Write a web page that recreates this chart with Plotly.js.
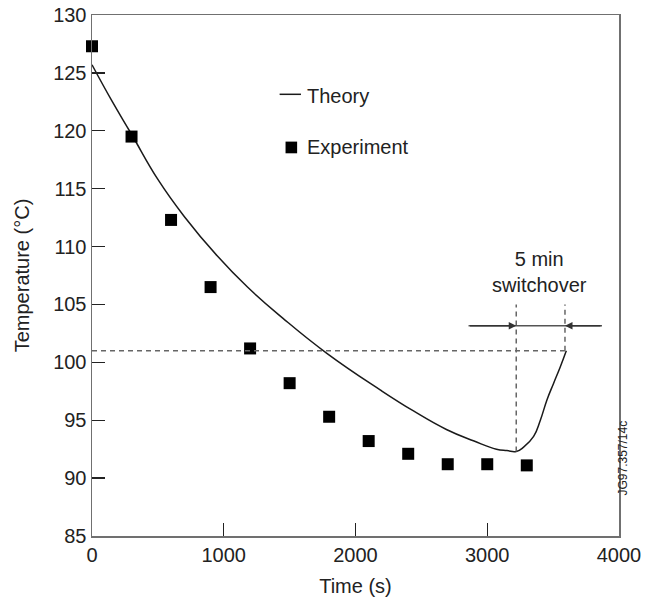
<!DOCTYPE html>
<html><head><meta charset="utf-8">
<script src="https://cdn.plot.ly/plotly-3.0.1.min.js"></script>
<style>html,body{margin:0;padding:0;background:#fff}#chart{width:653px;height:601px}</style>
</head><body><div id="chart"></div>
<script>
// ---- data ----
const theoryTime = [0,150,300,500,700,950,1180,1450,1780,2190,2440,2690,2900,3070,3150,3220,3276,3352,3403,3453,3504,3554,3600];
const theoryTemp = [125.7,122.6,119.7,115.8,112.6,109.2,106.5,103.8,100.8,97.6,95.8,94.2,93.2,92.5,92.38,92.3,92.67,93.6,95.0,96.75,98.2,99.6,101.0];
const expTime = [0,300,600,900,1200,1500,1800,2100,2400,2700,3000,3300];
const expTemp = [127.3,119.5,112.3,106.5,101.2,98.2,95.3,93.2,92.1,91.2,91.2,91.1];
const switchStart = 3220, switchEnd = 3590, switchTemp = 101.0, switchMin = 92.3;
const xTicks = [0,1000,2000,3000,4000];
const yTicks = [85,90,95,100,105,110,115,120,125,130];
const seriesNames = ['Theory','Experiment'];
const switchLabel = '5 min<br>switchover';
const figId = 'JG97.357/14c';

// ---- style ----
const FONT = 'Liberation Sans, Arial, Helvetica, sans-serif';
const TXT = '#222';
const AX = '#707070';
const DASH = '#666';

const traces = [
  {x: theoryTime, y: theoryTemp, mode: 'lines', name: seriesNames[0],
   line: {color: '#1a1a1a', width: 1.5, shape: 'spline', smoothing: 1.3}, hoverinfo: 'skip'},
  {x: expTime, y: expTemp, mode: 'markers', name: seriesNames[1], cliponaxis: false,
   marker: {symbol: 'square', size: 12, color: '#000'}}
];

const arrowY = 103.17, arrowLeft = 2858, arrowRight = 3871, dashTop = 105.0;

const shapes = [
  {type: 'line', xref: 'x', yref: 'y', x0: 0, x1: switchEnd, y0: switchTemp, y1: switchTemp,
   line: {color: DASH, width: 1.5, dash: '5px,4px'}},
  {type: 'line', xref: 'x', yref: 'y', x0: switchStart, x1: switchStart, y0: switchMin, y1: dashTop,
   line: {color: DASH, width: 1.5, dash: '5px,4px'}},
  {type: 'line', xref: 'x', yref: 'y', x0: switchEnd, x1: switchEnd, y0: switchTemp, y1: dashTop,
   line: {color: DASH, width: 1.5, dash: '5px,4px'}},
  {type: 'line', xref: 'x', yref: 'y', x0: arrowLeft, x1: arrowRight, y0: arrowY, y1: arrowY,
   line: {color: '#555', width: 1.5}},
  // legend: theory line
  {type: 'line', xref: 'x', yref: 'y', x0: 1424, x1: 1586, y0: 123.15, y1: 123.15,
   line: {color: '#1a1a1a', width: 1.5}},
  // legend: experiment square
  {type: 'rect', xref: 'x', yref: 'y', x0: 1513-44, x1: 1513+44, y0: 118.56-0.505, y1: 118.56+0.505,
   fillcolor: '#000', line: {width: 0}}
];

const annotations = [
  {x: switchStart, y: arrowY, ax: arrowLeft, ay: arrowY, axref: 'x', ayref: 'y', xref: 'x', yref: 'y',
   showarrow: true, arrowhead: 2, arrowsize: 1, arrowwidth: 1.5, arrowcolor: '#333', text: ''},
  {x: switchEnd, y: arrowY, ax: arrowRight, ay: arrowY, axref: 'x', ayref: 'y', xref: 'x', yref: 'y',
   showarrow: true, arrowhead: 2, arrowsize: 1, arrowwidth: 1.5, arrowcolor: '#333', text: ''},
  {x: 3399, y: 107.8, xref: 'x', yref: 'y', text: switchLabel, showarrow: false,
   font: {family: FONT, size: 20, color: TXT}, align: 'center'},
  {x: 1620, y: 123.0, xref: 'x', yref: 'y', text: seriesNames[0], showarrow: false, xanchor: 'left',
   font: {family: FONT, size: 20, color: TXT}},
  {x: 1620, y: 118.6, xref: 'x', yref: 'y', text: seriesNames[1], showarrow: false, xanchor: 'left',
   font: {family: FONT, size: 20, color: TXT}},
  {x: 1.0247, y: 0.0729, xref: 'paper', yref: 'paper', text: figId, showarrow: false, textangle: -90,
   font: {family: FONT, size: 12, color: TXT}}
];

const layout = {
  width: 653, height: 601,
  margin: {l: 92, r: 34, t: 15, b: 65},
  paper_bgcolor: '#fff', plot_bgcolor: '#fff',
  showlegend: false,
  font: {family: FONT, color: TXT, size: 20},
  xaxis: {range: [0, 4000], tickvals: xTicks, ticktext: xTicks.map(String),
    ticks: 'inside', ticklen: 13, tickwidth: 1.3, tickcolor: '#222',
    showline: true, linecolor: AX, linewidth: 1.5, mirror: true,
    showgrid: false, zeroline: false,
    tickfont: {family: FONT, size: 20, color: TXT},
    title: {text: 'Time (s)', font: {family: FONT, size: 20, color: TXT}, standoff: 14}},
  yaxis: {range: [85, 130], tickvals: yTicks, ticktext: yTicks.map(String),
    ticks: 'inside', ticklen: 13, tickwidth: 1.3, tickcolor: '#222',
    showline: true, linecolor: AX, linewidth: 1.5, mirror: true,
    showgrid: false, zeroline: false,
    tickfont: {family: FONT, size: 20, color: TXT},
    title: {text: 'Temperature (°C)', font: {family: FONT, size: 20, color: TXT}, standoff: 18}},
  shapes: shapes,
  annotations: annotations
};

Plotly.newPlot('chart', traces, layout, {displayModeBar: false, staticPlot: true});
</script></body></html>
